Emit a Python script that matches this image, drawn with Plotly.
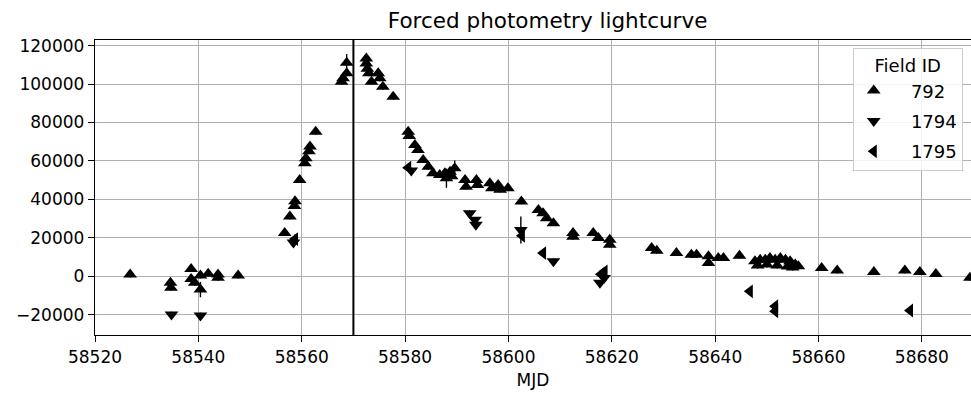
import plotly.graph_objects as go

# ---- data ----
# Field 792 (triangle-up)
mjd_792 = [58526.8, 58534.6, 58534.7, 58538.6, 58538.6, 58539.3, 58540.4, 58540.4, 58541.9, 58543.8,
           58543.8, 58547.7,
           58556.7, 58557.7, 58558.6, 58558.7, 58559.6, 58560.6, 58560.8, 58561.4, 58561.6, 58562.7,
           58567.7, 58568.0, 58568.7, 58568.7,
           58572.5, 58572.5, 58572.7, 58573.0, 58573.5, 58574.8, 58575.1, 58575.7, 58577.7,
           58580.6, 58580.8, 58581.9, 58582.5, 58583.5, 58584.5, 58585.4, 58586.7, 58587.7, 58588.0,
           58588.7, 58589.0, 58589.6, 58591.6, 58591.8, 58593.8, 58594.0, 58596.4, 58596.8, 58598.0,
           58598.4, 58599.9, 58602.5, 58605.8, 58606.7, 58607.4, 58608.7, 58612.5, 58612.5, 58616.4,
           58617.4, 58619.6, 58619.6, 58627.7, 58628.7, 58632.5, 58635.4, 58636.4, 58638.7, 58638.7,
           58640.6, 58641.6, 58644.7,
           58647.7, 58648.2, 58648.7, 58649.7, 58650.0, 58650.6, 58651.6, 58652.0, 58652.6, 58653.6,
           58654.0, 58654.5, 58655.0, 58655.5, 58656.1,
           58660.6, 58663.6, 58670.7, 58676.7, 58679.6, 58682.7, 58689.3]
flux_792 = [800, -3500, -6100, 3700, -1500, -3500, 300, -7000, 1300, 800,
            -900, 300,
            22400, 31000, 36500, 39000, 50100, 58800, 61400, 65000, 67500, 75200,
            101200, 103000, 105600, 111100,
            113300, 110700, 108000, 105600, 101200, 105600, 103000, 98600, 93400,
            75200, 73000, 68300, 65700, 60500, 57000, 53600, 52700, 53600, 51000,
            54400, 52000, 56200, 50100, 46600, 50100, 47500, 48400, 45800, 47500,
            45000, 45800, 38900, 34500, 32800, 30200, 27600, 22400, 20500, 22400,
            19800, 19000, 16400, 14600, 13200, 12000, 11200, 11200, 10300, 6900,
            9400, 9400, 10600,
            7700, 5500, 8500, 8500, 6000, 9400, 8500, 5500, 9400, 8500,
            5000, 7700, 4500, 6000, 5200,
            4300, 2900, 2200, 2900, 2200, 1100, -900]
err_792 = [1500, 1500, 1500, 1500, 1500, 1500, 1500, 4000, 1500, 1500,
           1500, 1500,
           1500, 1500, 1500, 1500, 1500, 1500, 1500, 1500, 1500, 1500,
           1500, 1500, 1500, 4500,
           2500, 1500, 1500, 1500, 1500, 1500, 1500, 1500, 1500,
           1500, 1500, 1500, 1500, 1500, 1500, 1500, 1500, 1500, 5000,
           1500, 1500, 4000, 1500, 1500, 1500, 1500, 1500, 1500, 1500,
           1500, 1500, 1500, 1500, 1500, 1500, 1500, 1500, 1500, 1500,
           1500, 1500, 1500, 1500, 1500, 1500, 1500, 1500, 1500, 1500,
           1500, 1500, 1500,
           1500, 1500, 1500, 1500, 1500, 1500, 1500, 1500, 1500, 1500,
           1500, 1500, 1500, 1500, 1500,
           1500, 1500, 1500, 1500, 1500, 1500, 1500]

# Field 1794 (triangle-down)
mjd_1794 = [58534.8, 58540.4, 58558.4, 58581.2, 58592.5, 58593.5, 58593.7, 58602.4, 58608.7,
            58617.7, 58618.5]
flux_1794 = [-20000, -20500, 17500, 55000, 32800, 29300, 26800, 24000, 7700, -3500, -1000]
err_1794 = [1500, 1500, 2000, 1500, 1500, 1500, 1500, 7000, 1500, 1500, 1500]

# Field 1795 (triangle-left)
mjd_1795 = [58558.7, 58580.6, 58602.6, 58606.7, 58617.9, 58618.6, 58646.7, 58651.6, 58651.6,
            58677.7]
flux_1795 = [19300, 56500, 21000, 12000, 1000, 2500, -7900, -15700, -18300, -17900]
err_1795 = [2500, 1500, 1500, 1500, 1500, 1500, 1500, 1500, 1500, 1500]

vline_mjd = 58570
x_ticks = [58520, 58540, 58560, 58580, 58600, 58620, 58640, 58660, 58680]
y_ticks = [-20000, 0, 20000, 40000, 60000, 80000, 100000, 120000]

FONT = "DejaVu Sans"

fig = go.Figure()
series = [
    ("792", mjd_792, flux_792, err_792, "triangle-up"),
    ("1794", mjd_1794, flux_1794, err_1794, "triangle-down"),
    ("1795", mjd_1795, flux_1795, err_1795, "triangle-left"),
]
for name, xs, ys, es, sym in series:
    fig.add_trace(go.Scatter(
        x=xs, y=ys, name="   " + name, mode="markers", legendgroup=name,
        marker=dict(symbol=sym, size=12, color="black", line=dict(width=0)),
        error_y=dict(type="data", array=es, visible=True, color="black",
                     thickness=1.4, width=0),
    ))

fig.add_shape(type="line", xref="x", yref="paper", x0=vline_mjd, x1=vline_mjd,
              y0=0, y1=1, line=dict(color="black", width=2))

axis_common = dict(
    showgrid=True, gridcolor="#b0b0b0", gridwidth=1.4, zeroline=False,
    showline=True, linecolor="black", linewidth=1.4,
    ticks="outside", ticklen=6, tickwidth=1.2, tickcolor="black",
    tickfont=dict(family=FONT, size=17, color="black"),
)

fig.update_layout(
    width=971, height=393, autosize=False,
    margin=dict(l=95, r=0, t=40, b=58),
    paper_bgcolor="white", plot_bgcolor="white",
    font=dict(family=FONT, size=17, color="black"),
    title=dict(text="Forced photometry lightcurve", x=0.564, xanchor="center",
               y=1 - 20 / 393, yanchor="middle", yref="container",
               font=dict(family=FONT, size=21.5, color="black")),
    xaxis=dict(range=[58520, 58689.5], tickvals=x_ticks, tickformat="d",
               mirror=True,
               title=dict(text="MJD", standoff=8, font=dict(family=FONT, size=17, color="black")),
               **axis_common),
    yaxis=dict(range=[-30650, 122960], tickvals=y_ticks, tickformat="d",
               mirror=False, **axis_common),
    legend=dict(x=0.865, y=0.973, xanchor="left", yanchor="top",
                bgcolor="rgba(255,255,255,0.85)", bordercolor="#cccccc", borderwidth=1,
                font=dict(family=FONT, size=18, color="black"),
                title=dict(text="Field ID", side="top center",
                           font=dict(family=FONT, size=18, color="black")),
                tracegroupgap=4, itemwidth=30,
                itemsizing="constant"),
    showlegend=True,
)

fig.write_html("out.html")
